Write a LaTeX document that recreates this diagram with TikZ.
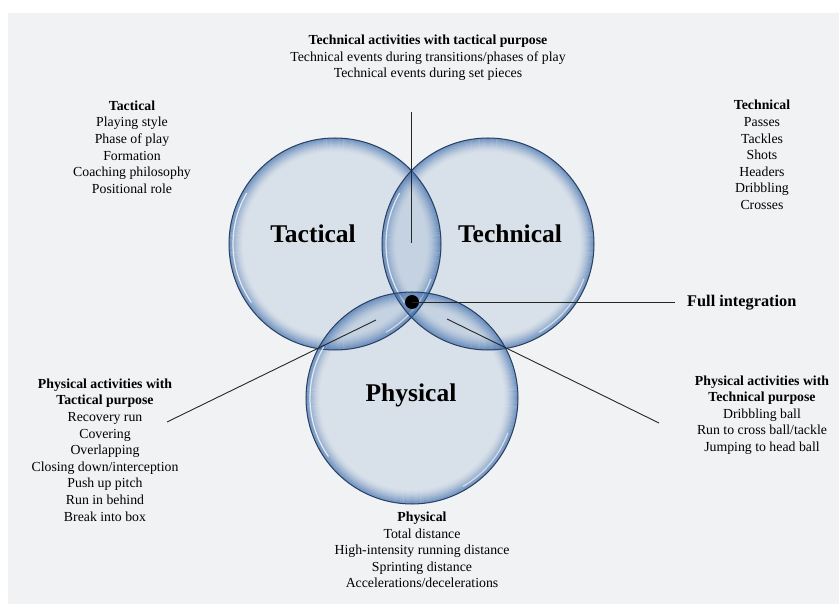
\documentclass[tikz,border=0pt]{standalone}
\usepackage{fontspec}
\setmainfont{Liberation Serif}
\begin{document}
\definecolor{bggray}{RGB}{241,242,244}
\definecolor{bubfill}{RGB}{140,168,202}
\definecolor{glowc}{RGB}{60,108,172}
\definecolor{rimc}{RGB}{40,64,98}
\tikzset{
  txt/.style={font=\fontsize{13.8}{16.6}\selectfont, align=center, inner sep=0pt},
  biglabel/.style={font=\fontsize{25.5}{28}\selectfont\bfseries, inner sep=0pt},
  conn/.style={draw=black!85, line width=0.9pt},
  bub/.style={circle, minimum size=212pt, inner sep=0pt},
}
\begin{tikzpicture}[x=1pt,y=-1pt]
\useasboundingbox (0,0) rectangle (839,604);
\fill[white] (0,0) rectangle (839,604);
\fill[bggray] (8,13) rectangle (839,604);
% bubbles
\node[bub] (tac) at (335,244) {};
\node[bub] (tec) at (488,244) {};
\node[bub] (phy) at (412,398) {};
\foreach \c in {tac,tec,phy}{
  \fill[bubfill, fill opacity=0.24] (\c.center) circle (106pt);
}
\foreach \c in {tac,tec,phy}{
  \foreach \i in {0,...,13}{
    \pgfmathsetmacro\op{0.62*(1-\i/14)^1.6}
    \pgfmathsetmacro\rr{105.5-\i}
    \draw[glowc, line width=1.1pt, draw opacity=\op] (\c.center) circle (\rr pt);
  }
  \draw[white, line width=1.2pt, draw opacity=0.75] (\c.center) ++(150:102pt) arc (150:215:102pt);
  \draw[white, line width=1.2pt, draw opacity=0.6] (\c.center) ++(300:102pt) arc (300:340:102pt);
  \draw[rimc, line width=1pt] (\c.center) circle (106pt);
}
% big labels
\node[biglabel] (ltac) at (313,234) {Tactical};
\node[biglabel] (ltec) at (510,234) {Technical};
\node[biglabel] (lphy) at (411,395) {Physical};
% text blocks
\node[txt] (ttop) at (428,58) {\textbf{Technical activities with tactical purpose}\\Technical events during transitions/phases of play\\Technical events during set pieces};
\node[txt] (ttac) at (132,147) {\textbf{Tactical}\\Playing style\\Phase of play\\Formation\\Coaching philosophy\\Positional role};
\node[txt] (ttec) at (762,155) {\textbf{Technical}\\Passes\\Tackles\\Shots\\Headers\\Dribbling\\Crosses};
\node[txt] (tpt) at (105,450) {\textbf{Physical activities with}\\\textbf{Tactical purpose}\\Recovery run\\Covering\\Overlapping\\Closing down/interception\\Push up pitch\\Run in behind\\Break into box};
\node[txt] (tptec) at (762,415) {\textbf{Physical activities with}\\\textbf{Technical purpose}\\Dribbling ball\\Run to cross ball/tackle\\Jumping to head ball};
\node[txt] (tphy) at (422,550) {\textbf{Physical}\\Total distance\\High-intensity running distance\\Sprinting distance\\Accelerations/decelerations};
\node[font=\fontsize{16.3}{18}\selectfont\bfseries, anchor=west, inner sep=0pt] (full) at (687,303) {Full integration};
% connectors
\coordinate (vtop) at (411,112);
\coordinate (vbot) at (411,243);
\coordinate (lin) at (376,320);
\coordinate (lout) at (167,422);
\coordinate (rin) at (447,319);
\coordinate (rout) at (659,423);
\coordinate (hend) at (675,302);
\node[circle, fill=black, minimum size=14pt, inner sep=0pt] (dot) at (412,302) {};
\draw[conn] (vtop) -- (vbot);
\draw[conn] (lin) -- (lout);
\draw[conn] (rin) -- (rout);
\draw[conn] (dot.center) -- (hend);
\end{tikzpicture}
\end{document}
